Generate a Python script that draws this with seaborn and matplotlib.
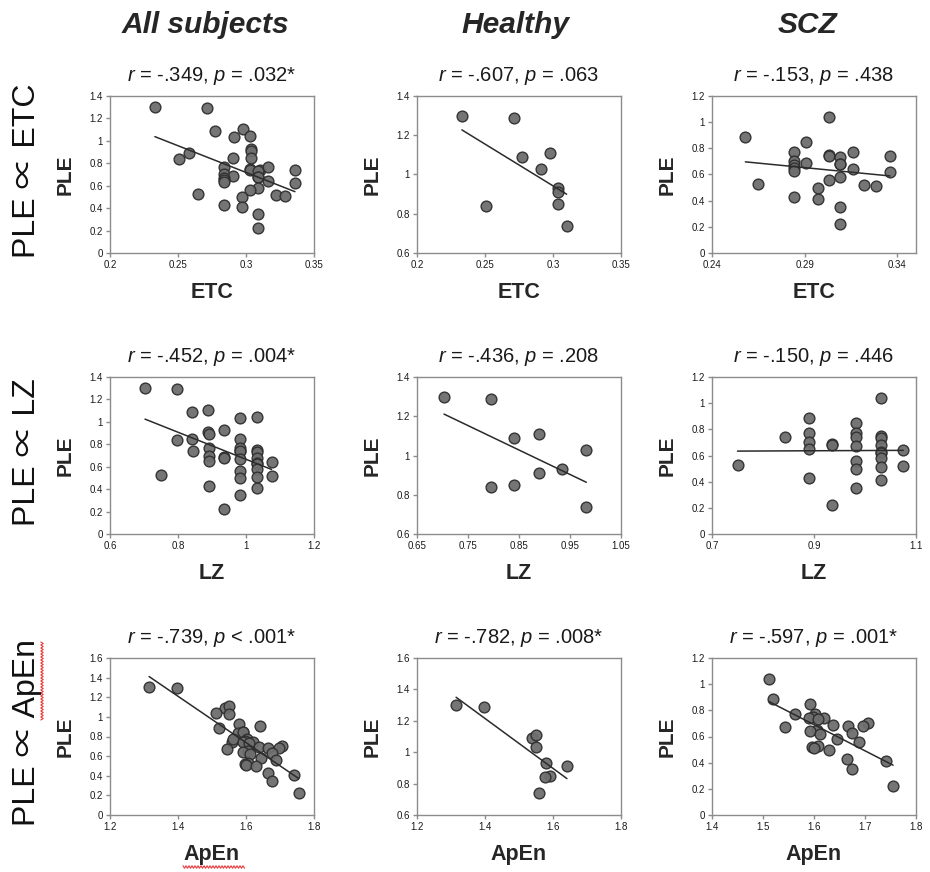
import numpy as np
import pandas as pd
import matplotlib
matplotlib.use("Agg")
import matplotlib.pyplot as plt
from matplotlib import font_manager
from matplotlib.ticker import FixedLocator, FuncFormatter
from matplotlib.lines import Line2D
import seaborn as sns

# ---------------------------------------------------------------------------
# Data: power-law exponent (PLE) against three complexity measures
# ---------------------------------------------------------------------------
# Healthy controls (n = 10)
healthy_ple = [1.30, 1.29, 1.09, 1.11, 1.03, 0.93, 0.91, 0.85, 0.84, 0.74]
healthy_etc = [0.233, 0.271, 0.277, 0.298, 0.291, 0.304, 0.304, 0.304, 0.251, 0.310]
healthy_lz = [0.703, 0.796, 0.840, 0.889, 0.982, 0.934, 0.889, 0.841, 0.796, 0.982]
healthy_apen = [1.315, 1.396, 1.537, 1.551, 1.551, 1.578, 1.641, 1.590, 1.576, 1.560]

# Patients with schizophrenia (n = 28)
scz_ple = [1.04, 0.89, 0.85, 0.77, 0.77, 0.75, 0.74, 0.74, 0.73, 0.70, 0.69, 0.68, 0.68, 0.67,
           0.65, 0.64, 0.63, 0.62, 0.58, 0.56, 0.53, 0.52, 0.51, 0.50, 0.43, 0.41, 0.35, 0.22]
scz_etc = [0.303, 0.258, 0.2905, 0.284, 0.316, 0.303, 0.303, 0.336, 0.309, 0.284, 0.2905, 0.309,
           0.309, 0.284, 0.284, 0.316, 0.284, 0.336, 0.309, 0.303, 0.265, 0.322, 0.3285, 0.297,
           0.284, 0.297, 0.309, 0.309]
scz_lz = [1.032, 0.891, 0.983, 0.891, 0.983, 1.032, 0.843, 0.983, 1.032, 0.891, 0.935, 0.935,
          1.032, 0.983, 0.891, 1.075, 1.032, 1.032, 1.032, 0.983, 0.750, 1.075, 1.032, 0.983,
          0.891, 1.032, 0.983, 0.935]
scz_apen = [1.512, 1.520, 1.592, 1.562, 1.602, 1.598, 1.620, 1.590, 1.608, 1.706, 1.638, 1.666,
            1.697, 1.544, 1.605, 1.592, 1.675, 1.612, 1.645, 1.689, 1.607, 1.597, 1.600, 1.630,
            1.664, 1.742, 1.675, 1.755]

groups = ["All subjects", "Healthy", "SCZ"]
measures = ["ETC", "LZ", "ApEn"]

# Correlation statistics printed above each panel (rows = measures, cols = groups)
r_values = [["-.349", "-.607", "-.153"],
            ["-.452", "-.436", "-.150"],
            ["-.739", "-.782", "-.597"]]
p_values = [["= .032*", "= .063", "= .438"],
            ["= .004*", "= .208", "= .446"],
            ["< .001*", "= .008*", "= .001*"]]

# Axis ranges and tick marks
x_ticks = {
    ("ETC", 0): [0.2, 0.25, 0.3, 0.35], ("ETC", 1): [0.2, 0.25, 0.3, 0.35], ("ETC", 2): [0.24, 0.29, 0.34],
    ("LZ", 0): [0.6, 0.8, 1.0, 1.2], ("LZ", 1): [0.65, 0.75, 0.85, 0.95, 1.05], ("LZ", 2): [0.7, 0.9, 1.1],
    ("ApEn", 0): [1.2, 1.4, 1.6, 1.8], ("ApEn", 1): [1.2, 1.4, 1.6, 1.8], ("ApEn", 2): [1.4, 1.5, 1.6, 1.7, 1.8],
}
x_limits = {
    ("ETC", 0): (0.2, 0.35), ("ETC", 1): (0.2, 0.35), ("ETC", 2): (0.24, 0.35),
    ("LZ", 0): (0.6, 1.2), ("LZ", 1): (0.65, 1.05), ("LZ", 2): (0.7, 1.1),
    ("ApEn", 0): (1.2, 1.8), ("ApEn", 1): (1.2, 1.8), ("ApEn", 2): (1.4, 1.8),
}
y_limits = {
    ("ETC", 0): (0.0, 1.4), ("ETC", 1): (0.6, 1.4), ("ETC", 2): (0.0, 1.2),
    ("LZ", 0): (0.0, 1.4), ("LZ", 1): (0.6, 1.4), ("LZ", 2): (0.0, 1.2),
    ("ApEn", 0): (0.0, 1.6), ("ApEn", 1): (0.6, 1.6), ("ApEn", 2): (0.0, 1.2),
}

# ---------------------------------------------------------------------------
healthy = pd.DataFrame({"PLE": healthy_ple, "ETC": healthy_etc, "LZ": healthy_lz, "ApEn": healthy_apen})
scz = pd.DataFrame({"PLE": scz_ple, "ETC": scz_etc, "LZ": scz_lz, "ApEn": scz_apen})
frames = [pd.concat([healthy, scz], ignore_index=True), healthy, scz]

sns.set_style("white")
available = {f.name for f in font_manager.fontManager.ttflist}
base_font = "Liberation Sans" if "Liberation Sans" in available else "DejaVu Sans"
narrow_font = "Liberation Sans Narrow" if "Liberation Sans Narrow" in available else base_font
symbol_font = "Noto Sans CJK JP" if "Noto Sans CJK JP" in available else "DejaVu Sans"
plt.rcParams["font.family"] = [base_font, "DejaVu Sans"]
plt.rcParams["mathtext.fontset"] = "custom"
plt.rcParams["mathtext.rm"] = base_font
plt.rcParams["mathtext.it"] = base_font + ":italic"

W, H = 930, 872
fig = plt.figure(figsize=(W / 100, H / 100), dpi=100)
fig.patch.set_facecolor("white")

col_left = [110, 417, 712]
row_top = [96, 377, 658]
ax_w, ax_h = 204, 157

marker_fill = "#6e6e6e"
marker_edge = "#2e2e2e"
frame_grey = "#8c8c8c"

fmt = FuncFormatter(lambda v, pos: f"{v:g}")

for r, measure in enumerate(measures):
    for c, group in enumerate(groups):
        ax = fig.add_axes([col_left[c] / W, 1 - (row_top[r] + ax_h) / H, ax_w / W, ax_h / H])
        sns.regplot(
            data=frames[c], x=measure, y="PLE", ax=ax, ci=None, truncate=True,
            color=marker_fill,
            scatter_kws=dict(s=60, edgecolors=marker_edge, linewidths=1.0, alpha=0.95, zorder=2),
            line_kws=dict(color="#2b2b2b", lw=1.1, zorder=3),
        )
        ax.set_xlim(*x_limits[(measure, c)])
        ax.set_ylim(*y_limits[(measure, c)])
        ax.xaxis.set_major_locator(FixedLocator(x_ticks[(measure, c)]))
        ylo, yhi = y_limits[(measure, c)]
        ax.yaxis.set_major_locator(FixedLocator(np.round(np.arange(ylo, yhi + 1e-9, 0.2), 2)))
        ax.xaxis.set_major_formatter(fmt)
        ax.yaxis.set_major_formatter(fmt)
        ax.tick_params(axis="both", which="major", direction="out", length=3, width=1,
                       color=frame_grey, labelsize=7, labelcolor="#1a1a1a", pad=2,
                       bottom=True, left=True, top=False, right=False)
        for side in ax.spines.values():
            side.set_visible(True)
            side.set_color(frame_grey)
            side.set_linewidth(1.0)

        ax.set_xlabel(measure, fontsize=15.5, fontweight="bold", family=[narrow_font, "DejaVu Sans"])
        ax.set_ylabel("PLE", fontsize=15, fontweight="bold", family=[narrow_font, "DejaVu Sans"])
        ax.xaxis.label.set_va("center")
        ax.yaxis.label.set_va("center")
        ax.xaxis.set_label_coords(0.5, -39 / ax_h)
        ax.yaxis.set_label_coords(-45 / ax_w, 0.5)

        ax.text(0.5, 1 + 20 / ax_h, f"$r$ = {r_values[r][c]}, $p$ {p_values[r][c]}",
                transform=ax.transAxes, ha="center", va="center", fontsize=14.5, color="#1a1a1a")

# Group headers
for cx, group in zip([205, 515, 808], groups):
    fig.text(cx / W, 1 - 25 / H, group, ha="center", va="center", fontsize=21.5,
             fontweight="bold", fontstyle="italic")

# Row headers
for cy, measure in zip([171, 452, 732], measures):
    fig.text(27 / W, 1 - cy / H, f"PLE \u221d {measure}", rotation=90, ha="center", va="center",
             fontsize=23, color="#111111", family=[base_font, symbol_font, "DejaVu Sans"])

# Spell-check squiggles under "ApEn"
def squiggle(x0, x1, y0, vertical=False):
    t = np.arange(0, x1 - x0 + 0.1, 1.5)
    w = np.where(np.arange(len(t)) % 2 == 0, -1.2, 1.2)
    if vertical:
        xs, ys = y0 + w, x0 + t
    else:
        xs, ys = x0 + t, y0 + w
    fig.add_artist(Line2D(xs / W, 1 - ys / H, color="#e8363a", lw=0.8, transform=fig.transFigure))

squiggle(183, 245, 867)
squiggle(642, 720, 42, vertical=True)

fig.savefig("out.png", dpi=100, facecolor="white")
